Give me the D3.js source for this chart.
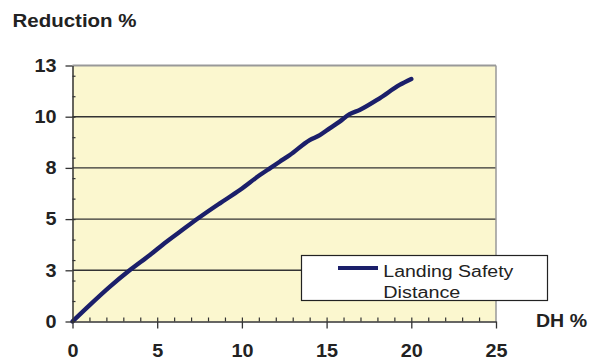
<!DOCTYPE html>
<html>
<head>
<meta charset="utf-8">
<script src="https://cdn.jsdelivr.net/npm/d3@7"></script>
<style>
  html, body { margin: 0; padding: 0; background: #fff; }
  svg { display: block; font-family: "Liberation Sans", Arial, sans-serif; }
</style>
</head>
<body>
<svg id="chart" width="603" height="361"></svg>
<script>
// Landing safety distance: reduction (%) against DH (%)
const dhValues        = [0, 1.03, 2.21, 3.39, 4.57, 5.55, 6.34, 7.42, 8.7, 9.88, 11.06, 11.65, 12.23, 12.83, 14.0, 14.6, 15.18, 15.77, 16.36, 16.95, 18.13, 19.31, 20.0];
const reductionValues = [0, 0.81, 1.70, 2.51, 3.25, 3.90, 4.38, 5.04, 5.77, 6.42, 7.15, 7.48, 7.80, 8.13, 8.86, 9.10, 9.43, 9.76, 10.13, 10.33, 10.90, 11.55, 11.84];

const seriesName = ["Landing Safety", "Distance"];

const xTickValues = [0, 5, 10, 15, 20, 25];
const xTickLabels = ["0", "5", "10", "15", "20", "25"];
const yTickValues = [0, 2.5, 5, 7.5, 10, 12.5];
const yTickLabels = ["0", "3", "5", "8", "10", "13"];
const yGridValues = [2.5, 5, 7.5, 10];

const xTitle = "DH %";
const yTitle = "Reduction %";

const svg = d3.select("#chart");

const x = d3.scaleLinear().domain([0, 25]).range([72.5, 496]);
const y = d3.scaleLinear().domain([0, 12.5]).range([321.5, 65.5]);

const ink = "#222";
const lineColor = "#1b1f6a";

// plot background
svg.append("rect")
  .attr("x", x(0)).attr("y", y(12.5))
  .attr("width", x(25) - x(0)).attr("height", y(0) - y(12.5))
  .attr("fill", "#fbf7cf");

// horizontal gridlines
svg.append("g").selectAll("line").data(yGridValues).join("line")
  .attr("x1", x(0)).attr("x2", x(25))
  .attr("y1", d => y(d)).attr("y2", d => y(d))
  .attr("stroke", "#333").attr("stroke-width", 1.4);

// top and right frame
svg.append("line")
  .attr("x1", x(0)).attr("x2", x(25)).attr("y1", y(12.5)).attr("y2", y(12.5))
  .attr("stroke", "#999").attr("stroke-width", 2);
svg.append("line")
  .attr("x1", x(25)).attr("x2", x(25)).attr("y1", y(12.5)).attr("y2", y(0))
  .attr("stroke", "#999").attr("stroke-width", 1.5);

// data line
const pts = dhValues.map((d, i) => [d, reductionValues[i]]);
svg.append("path")
  .datum(pts)
  .attr("fill", "none")
  .attr("stroke", lineColor)
  .attr("stroke-width", 4.4)
  .attr("stroke-linejoin", "round")
  .attr("stroke-linecap", "round")
  .attr("d", d3.line().x(d => x(d[0])).y(d => y(d[1])).curve(d3.curveMonotoneX));

function styleAxis(g) {
  g.select(".domain").attr("stroke", "#333").attr("stroke-width", 1.5);
  g.selectAll(".tick line").attr("stroke", "#333").attr("stroke-width", 1.3);
  g.selectAll(".tick text")
    .attr("fill", ink)
    .style("font-size", "18px")
    .style("font-weight", "bold")
    .each(function () {
      const w = this.getComputedTextLength();
      d3.select(this).attr("textLength", w * 1.1).attr("lengthAdjust", "spacingAndGlyphs");
    });
}

// minor ticks
svg.append("g")
  .attr("transform", `translate(${x(0)},0)`)
  .call(d3.axisRight(y).tickValues(d3.range(1, 13)).tickSize(3).tickFormat(""))
  .call(g => g.select(".domain").remove())
  .call(g => g.selectAll(".tick line").attr("stroke", "#333").attr("stroke-width", 1.2));
svg.append("g")
  .attr("transform", `translate(0,${y(0)})`)
  .call(d3.axisTop(x).tickValues(d3.range(1, 25)).tickSize(4).tickFormat(""))
  .call(g => g.select(".domain").remove())
  .call(g => g.selectAll(".tick line").attr("stroke", "#333").attr("stroke-width", 1.2));

// major axes
svg.append("g")
  .attr("transform", `translate(${x(0)},0)`)
  .call(d3.axisLeft(y).tickValues(yTickValues).tickFormat((d, i) => yTickLabels[i])
    .tickSize(7).tickSizeOuter(0).tickPadding(9))
  .call(styleAxis);
svg.append("g")
  .attr("transform", `translate(0,${y(0)})`)
  .call(d3.axisBottom(x).tickValues(xTickValues).tickFormat((d, i) => xTickLabels[i])
    .tickSize(7).tickSizeOuter(0).tickPadding(15.5))
  .call(styleAxis);

// axis titles
svg.append("text")
  .attr("x", 12.5).attr("y", 26.7)
  .attr("fill", ink)
  .style("font-size", "18px").style("font-weight", "bold")
  .attr("textLength", 124).attr("lengthAdjust", "spacingAndGlyphs")
  .text(yTitle);
svg.append("text")
  .attr("x", 536).attr("y", 327.3)
  .attr("fill", ink)
  .style("font-size", "18px").style("font-weight", "bold")
  .attr("textLength", 51).attr("lengthAdjust", "spacingAndGlyphs")
  .text(xTitle);

// legend
const legend = svg.append("g");
legend.append("rect")
  .attr("x", 301.5).attr("y", 255.5).attr("width", 246).attr("height", 45)
  .attr("fill", "#fff").attr("stroke", ink).attr("stroke-width", 1.2);
legend.append("line")
  .attr("x1", 338).attr("x2", 378).attr("y1", 268).attr("y2", 268)
  .attr("stroke", lineColor).attr("stroke-width", 4);
legend.append("text")
  .attr("x", 383.3).attr("y", 276.7)
  .attr("fill", ink).style("font-size", "16px")
  .attr("textLength", 130).attr("lengthAdjust", "spacingAndGlyphs")
  .text(seriesName[0]);
legend.append("text")
  .attr("x", 383.3).attr("y", 298.3)
  .attr("fill", ink).style("font-size", "16px")
  .attr("textLength", 77).attr("lengthAdjust", "spacingAndGlyphs")
  .text(seriesName[1]);
</script>
</body>
</html>
